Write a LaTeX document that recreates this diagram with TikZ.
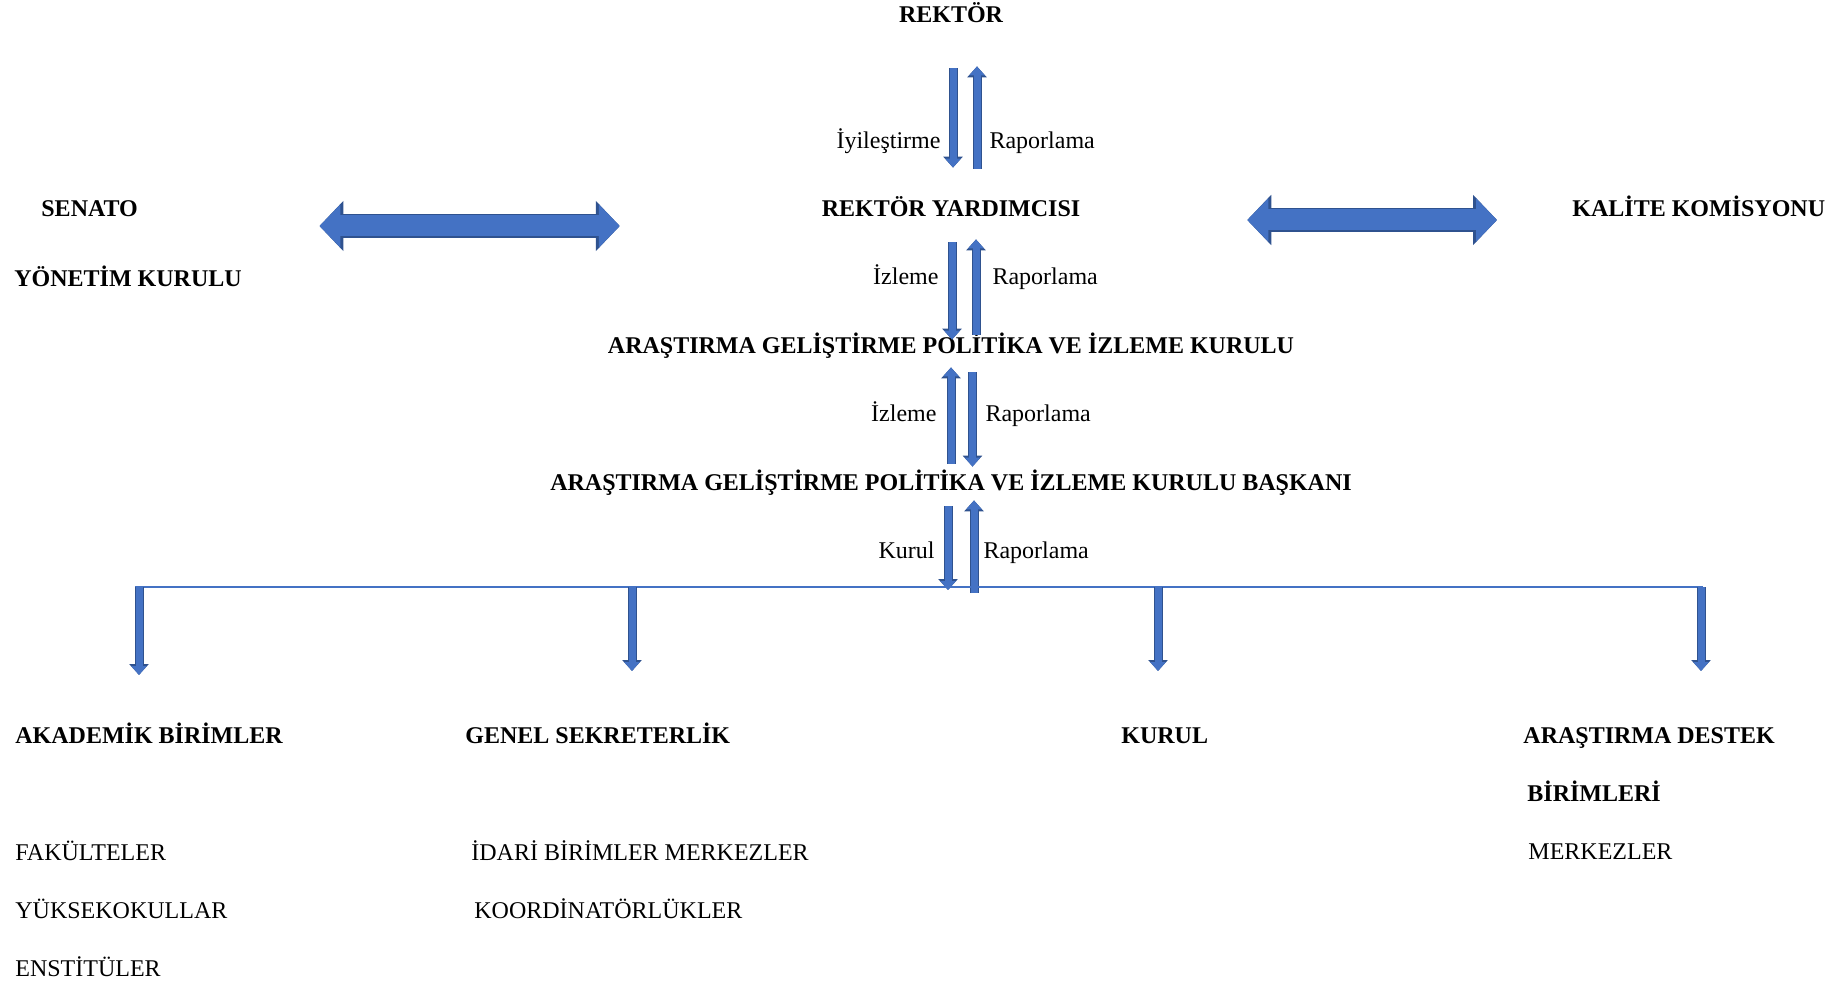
\documentclass[tikz,border=0pt]{standalone}
\usepackage{fontspec}
\setmainfont{Liberation Serif}
\usetikzlibrary{arrows.meta,positioning}
\definecolor{arrblue}{RGB}{68,114,196}
\definecolor{arredge}{RGB}{47,82,143}

\begin{document}
\begin{tikzpicture}[x=0.5pt, y=-0.5pt,
    every node/.style={inner sep=0pt, text height=8pt, text depth=0pt, font=\fontsize{12pt}{14pt}\selectfont},
    title/.style={font=\fontsize{12pt}{14pt}\selectfont\bfseries},
    blk/.style={draw=arrblue, line width=3.5pt, -{Triangle[width=7.5pt,length=4.5pt]},
        preaction={draw=arredge, line width=4.5pt, -{Triangle[width=9.5pt,length=5.5pt]}}},
    dblk/.style={draw=arrblue, line width=10.5pt, {Triangle[width=21pt,length=10.5pt]}-{Triangle[width=21pt,length=10.5pt]},
        preaction={draw=arredge, line width=12pt, {Triangle[width=24.5pt,length=12pt]}-{Triangle[width=24.5pt,length=12pt]}}},
    bus/.style={draw=arrblue, line width=1.2pt}]
    \useasboundingbox (0,0) rectangle (1845,984);

    % Nodes
    \node[title, anchor=base] (rek) at (951,23) {REKTÖR};
    \node[title, anchor=base] (ry) at (951,217) {REKTÖR YARDIMCISI};
    \node[title, anchor=base west] (sen) at (41,217) {SENATO};
    \node[title, anchor=base west] (yon) at (14,286) {YÖNETİM KURULU};
    \node[title, anchor=base west] (kal) at (1572,217) {KALİTE KOMİSYONU};
    \node[title, anchor=base] (agp) at (951,353) {ARAŞTIRMA GELİŞTİRME POLİTİKA VE İZLEME KURULU};
    \node[title, anchor=base] (bsk) at (951,490) {ARAŞTIRMA GELİŞTİRME POLİTİKA VE İZLEME KURULU BAŞKANI};

    \node[title, anchor=base west] (aka) at (15,743) {AKADEMİK BİRİMLER};
    \node[title, anchor=base west] (gen) at (465,743) {GENEL SEKRETERLİK};
    \node[title, anchor=base west] (kur) at (1121,743) {KURUL};
    \node[title, anchor=base west] (ads) at (1523,743) {ARAŞTIRMA DESTEK};
    \node[title, anchor=base west] (adb) at (1527,801) {BİRİMLERİ};

    \node[anchor=base west] (fak) at (15,860) {FAKÜLTELER};
    \node[anchor=base west] (yuk) at (15,918) {YÜKSEKOKULLAR};
    \node[anchor=base west] (ens) at (15,976) {ENSTİTÜLER};
    \node[anchor=base west] (ida) at (471,860) {İDARİ BİRİMLER MERKEZLER};
    \node[anchor=base west] (koo) at (474,918) {KOORDİNATÖRLÜKLER};
    \node[anchor=base west] (mrk) at (1528,859) {MERKEZLER};

    % Bus line
    \coordinate (busL) at (135,587);
    \coordinate (busR) at (1703,587);
    \coordinate (d1) at (139,675);
    \coordinate (d2) at (632,671);
    \coordinate (d3) at (1158,671);
    \coordinate (d4) at (1701,671);

    % Arrows
    \draw[blk, shorten <=22.5pt, shorten >=16.5pt] ([xshift=1pt]rek.south) -- ([xshift=1pt]ry.north)
        node[pos=0.663, left=4.5pt] {İyileştirme};
    \draw[blk, shorten <=16pt, shorten >=21.5pt] ([xshift=13pt]ry.north) -- ([xshift=13pt]rek.south)
        node[pos=0.337, right=4.5pt] {Raporlama};

    \draw[dblk, shorten <=90.6pt, shorten >=100.8pt] ([yshift=-8.5pt]sen.east) -- ([yshift=-8.5pt]ry.west);
    \draw[dblk, shorten <=83.3pt, shorten >=37.5pt] ([yshift=-5.5pt]ry.east) -- ([yshift=-5.5pt]kal.west);

    \draw[blk, shorten <=12.5pt, shorten >=-1.5pt] ([xshift=0.5pt]ry.south) -- ([xshift=0.5pt]agp.north)
        node[midway, left=5pt] {İzleme};
    \draw[blk, shorten <=1pt, shorten >=11pt] ([xshift=12.5pt]agp.north) -- ([xshift=12.5pt]ry.south)
        node[midway, right=6.5pt] {Raporlama};

    \draw[blk, shorten <=5pt, shorten >=7pt] (bsk.north) -- (agp.south)
        node[midway, left=5.5pt] {İzleme};
    \draw[blk, shorten <=9.5pt, shorten >=3.5pt] ([xshift=10.75pt]agp.south) -- ([xshift=10.75pt]bsk.north)
        node[midway, right=4.75pt] {Raporlama};

    \draw[blk, shorten <=8pt, shorten >=-1.5pt] ([xshift=-1.5pt]bsk.south) -- ([xshift=-1.5pt]bsk.south |- busL)
        node[pos=0.62, left=5pt] {Kurul};
    \draw[blk, shorten <=-3pt, shorten >=5pt] ([xshift=11.5pt]bsk.south |- busL) -- ([xshift=11.5pt]bsk.south)
        node[pos=0.38, right=3pt] {Raporlama};

    \draw[bus] (busL) -- (busR);
    \foreach \d in {d1,d2,d3,d4}
        \draw[blk] (\d |- busL) -- (\d);
\end{tikzpicture}
\end{document}
